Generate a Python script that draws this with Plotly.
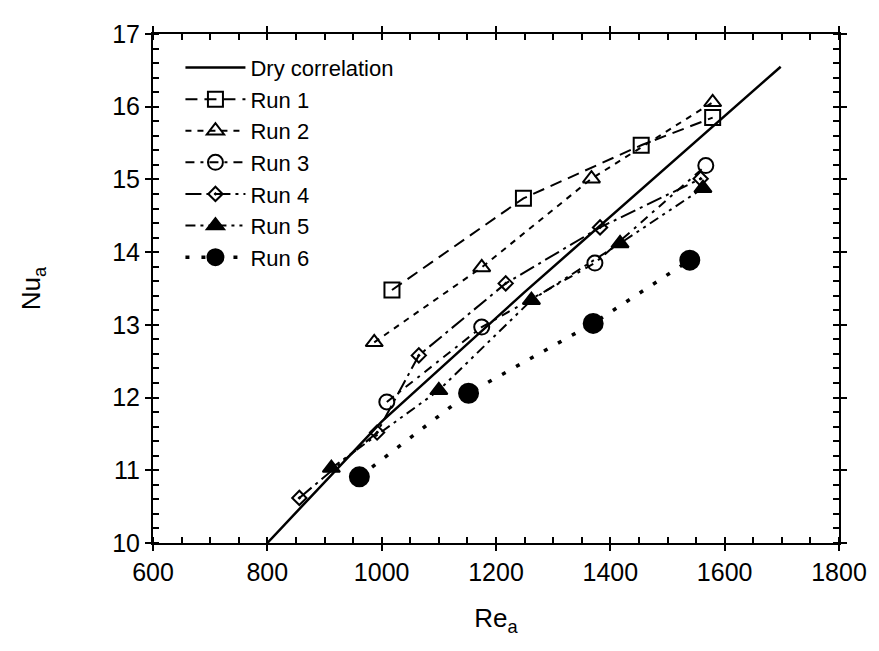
import plotly.graph_objects as go

# Dry correlation
dry_re = [800, 1000, 1250, 1698]
dry_nu = [10.0, 11.67, 13.45, 16.55]

run1_re = [1018, 1248, 1454, 1579]
run1_nu = [13.48, 14.74, 15.47, 15.85]

run2_re = [987, 1175, 1367, 1579]
run2_nu = [12.76, 13.79, 15.01, 16.06]

run3_re = [1009, 1175, 1373, 1567]
run3_nu = [11.94, 12.97, 13.85, 15.19]

run4_re = [856, 992, 1065, 1217, 1382, 1558]
run4_nu = [10.62, 11.52, 12.58, 13.57, 14.34, 15.01]

run5_re = [912, 1100, 1262, 1417, 1562]
run5_nu = [11.03, 12.10, 13.34, 14.12, 14.88]

run6_re = [961, 1152, 1370, 1539]
run6_nu = [10.91, 12.06, 13.02, 13.89]

x_range = [600, 1800]
y_range = [10, 17]

FONT = "Liberation Sans, Arial, sans-serif"

fig = go.Figure()
fig.add_trace(go.Scatter(x=dry_re, y=dry_nu, mode="lines", name="Dry correlation",
                         line=dict(color="black", width=2.5)))

runs = [
    ("Run 1", run1_re, run1_nu, "square-open", 15, "12px,7px", 2),
    ("Run 2", run2_re, run2_nu, "triangle-up-open", 15, "6px,6px", 2),
    ("Run 3", run3_re, run3_nu, "circle-open", 15, "9px,6px,3px,6px", 2),
    ("Run 4", run4_re, run4_nu, "diamond-open-dot", 11, "16px,5px,3px,5px", 2),
    ("Run 5", run5_re, run5_nu, "triangle-up", 15, "10px,5px,3px,5px,3px,5px", 2),
    ("Run 6", run6_re, run6_nu, "circle", 19, "4px,12px", 3.5),
]
for name, xs, ys, sym, size, dash, lw in runs:
    fig.add_trace(go.Scatter(
        x=xs, y=ys, mode="lines+markers", name=name,
        line=dict(color="black", width=lw, dash=dash),
        marker=dict(symbol=sym, size=size, color="black",
                    line=dict(color="black", width=2)),
    ))

axis_common = dict(
    showgrid=False, zeroline=False, showline=True, linecolor="black", linewidth=2,
    mirror="allticks", ticks="outside", ticklen=6, tickwidth=2, tickcolor="black",
    tickfont=dict(family=FONT, size=25, color="black"),
    tickmode="linear",
)
fig.update_xaxes(range=x_range, tick0=600, dtick=200,
                 minor=dict(tick0=600, dtick=50, ticks="inside", ticklen=6,
                            tickcolor="black", tickwidth=2, showgrid=False),
                 title=dict(text="Re<sub>a</sub>", font=dict(family=FONT, size=26, color="black"), standoff=24),
                 **axis_common)
fig.update_yaxes(range=y_range, tick0=10, dtick=1,
                 minor=dict(tick0=10, dtick=0.2, ticks="inside", ticklen=6,
                            tickcolor="black", tickwidth=2, showgrid=False),
                 title=dict(text="Nu<sub>a</sub>", font=dict(family=FONT, size=26, color="black"), standoff=64),
                 **axis_common)

fig.update_layout(
    width=879, height=651,
    margin=dict(l=153, r=37, t=34, b=108),
    plot_bgcolor="white", paper_bgcolor="white",
    font=dict(family=FONT, color="black"),
    showlegend=True,
    legend=dict(x=0.04, y=0.975, xanchor="left", yanchor="top",
                bgcolor="rgba(0,0,0,0)", borderwidth=0,
                font=dict(family=FONT, size=22, color="black"),
                tracegroupgap=0, itemwidth=60),
)

fig.write_html("out.html")
